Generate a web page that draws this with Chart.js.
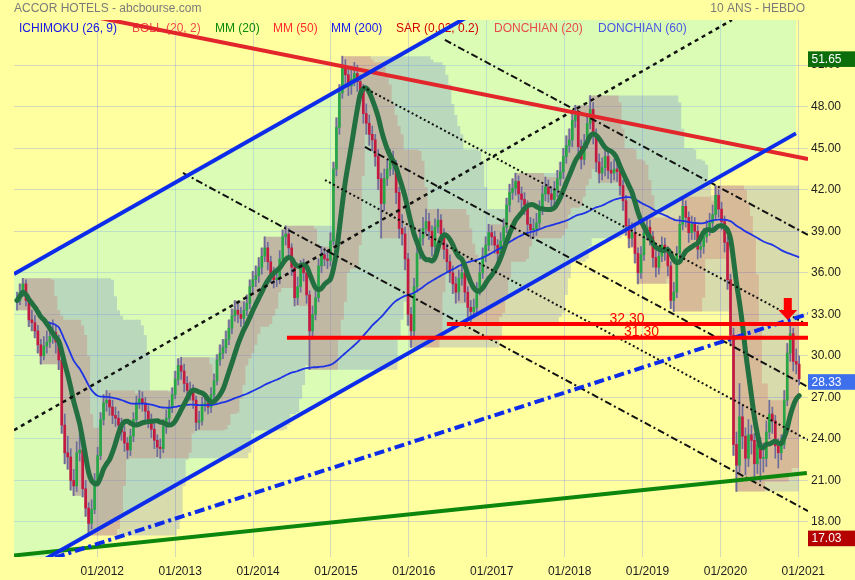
<!DOCTYPE html>
<html><head><meta charset="utf-8">
<script src="https://cdn.jsdelivr.net/npm/chart.js@4.4.0/dist/chart.umd.min.js"></script>
<style>html,body{margin:0;padding:0;background:#FFFFA0;}canvas{display:block;}</style>
</head><body>
<canvas id="c" width="855" height="580" style="width:855px;height:580px"></canvas>
<script>
// ---------- DATA ----------
const startYear = 2010.969;           // first (bi-weekly) candle
const stepYears = 14 / 365.25;        // two weeks
const closes = [34.0,34.6,35.2,34.0,32.6,32.4,31.8,30.8,30.0,30.7,
31.0,31.4,31.7,31.0,29.7,25.0,23.0,22.7,21.0,20.6,
23.0,23.2,20.4,19.0,17.9,18.9,21.0,22.8,25.4,26.6,
26.8,26.3,25.7,25.5,25.0,24.5,23.7,23.2,24.2,25.4,
26.6,26.9,26.6,26.0,25.4,24.7,23.9,23.4,23.3,24.9,
25.5,26.3,27.2,28.3,29.3,28.9,28.0,27.5,27.4,26.8,
25.2,25.3,26.5,26.6,26.3,27.2,28.2,29.7,30.2,30.6,
31.2,32.0,32.9,33.3,33.0,32.7,33.3,33.8,35.0,35.5,
35.8,36.4,37.2,37.8,36.8,35.9,35.5,35.6,37.0,38.6,
38.8,37.8,36.4,34.2,35.0,36.4,36.0,34.4,31.8,33.0,
34.2,36.5,37.3,37.0,36.9,38.3,43.5,46.5,49.0,50.9,
50.3,49.5,50.0,50.4,49.8,49.2,47.5,46.8,46.0,45.6,
44.4,42.8,41.0,42.8,43.5,44.2,43.8,41.8,39.2,38.8,
37.0,33.0,31.8,35.0,37.4,38.5,39.2,39.7,39.0,37.9,
39.3,39.8,38.8,37.7,36.8,36.0,35.2,34.6,35.6,36.0,
34.6,33.5,33.2,33.5,34.8,36.0,37.2,38.0,38.9,38.6,
38.0,37.4,38.3,39.3,40.9,41.8,42.1,42.6,41.7,41.3,
40.9,39.5,39.1,39.2,39.6,40.6,41.7,42.2,41.7,41.3,
42.0,42.8,43.3,44.4,45.2,45.6,47.0,47.4,45.1,44.2,
45.4,46.8,47.8,46.0,44.0,43.2,43.6,44.4,43.4,43.2,
43.5,43.3,42.3,41.2,39.4,38.5,38.9,37.4,36.0,37.3,
38.9,39.3,38.6,37.1,36.4,37.2,38.0,37.5,36.5,34.0,
34.6,37.4,39.5,40.8,40.0,38.9,39.5,39.0,37.7,37.9,
38.6,39.1,39.6,40.2,41.6,40.6,39.7,38.2,35.5,31.5,
23.6,22.1,25.6,24.2,22.6,24.3,23.9,22.2,23.6,22.6,
22.6,24.5,25.8,25.3,23.5,23.0,23.6,26.8,30.2,31.6,
29.6,29.4,28.33];
const highs = [34.6,35.2,35.6,35.5,34.3,33.3,32.9,32.2,31.2,31.4,
31.8,32.3,32.6,32.2,31.5,30.0,25.8,24.2,23.3,21.8,
23.8,24.8,23.6,21.0,19.4,19.6,21.5,23.4,25.9,27.2,
27.5,27.3,26.8,26.3,26.0,25.5,24.9,24.1,24.7,25.9,
27.1,27.5,27.4,27.0,26.4,25.8,25.1,24.3,24.0,25.4,
26.1,26.8,27.7,28.9,29.8,29.9,29.4,28.5,28.1,27.9,
27.1,26.0,27.0,27.2,27.1,27.7,28.7,30.1,30.8,31.2,
31.8,32.6,33.4,34.0,33.9,33.5,33.9,34.4,35.5,36.1,
36.5,37.1,37.8,38.6,38.2,37.2,36.4,36.3,37.6,39.1,
39.4,39.2,38.1,36.7,35.7,36.9,37.0,36.3,34.7,33.6,
34.8,37.0,37.9,37.8,37.6,38.9,44.0,47.2,49.6,51.65,
51.4,50.8,50.8,51.2,51.0,50.3,49.6,48.2,47.4,46.6,
46.0,44.9,43.2,43.5,44.2,44.9,44.8,44.1,42.2,40.2,
39.3,37.4,33.5,35.6,38.0,39.2,40.0,40.6,40.3,39.4,
39.9,40.6,40.2,39.2,38.1,37.3,36.5,35.7,36.2,36.7,
36.4,35.0,34.0,34.1,35.3,36.6,37.8,38.6,39.5,39.4,
39.0,38.4,38.9,39.9,41.4,42.4,42.8,43.2,43.0,42.2,
41.8,41.2,40.0,39.9,40.3,41.2,42.3,42.9,42.7,42.2,
42.6,43.4,44.0,45.0,45.9,46.4,47.6,48.1,47.7,45.6,
46.0,47.4,48.8,48.3,46.4,44.6,44.3,45.0,44.9,44.0,
44.2,44.1,43.8,42.7,41.6,39.9,39.6,39.3,37.8,37.9,
39.5,40.0,39.8,39.0,37.6,37.8,38.6,38.5,37.9,36.8,
35.3,37.9,40.1,41.5,41.2,40.4,40.1,40.0,39.4,38.5,
39.2,39.8,40.3,40.9,42.3,42.0,41.1,40.1,38.6,35.9,
32.0,24.5,28.0,26.4,24.8,25.4,25.0,24.4,24.5,24.1,
23.7,25.3,26.8,26.3,25.7,24.0,24.3,27.5,30.9,32.3,
32.0,30.5,30.0];
const lows = [33.3,33.7,34.3,33.6,32.1,31.8,31.3,30.2,29.4,29.7,
30.2,30.6,30.9,30.2,29.0,24.4,22.2,21.8,20.3,19.9,
20.2,22.4,19.8,18.4,17.03,17.5,18.6,20.6,22.5,25.0,
26.0,25.7,25.1,24.9,24.4,23.9,23.1,22.6,22.8,23.8,
25.0,26.2,26.0,25.4,24.8,24.1,23.3,22.7,22.6,23.0,
24.4,25.1,25.9,26.9,27.9,28.3,27.4,27.0,26.8,26.2,
24.6,24.7,25.0,26.0,25.8,25.9,26.9,27.9,29.3,29.8,
30.2,30.8,31.6,32.5,32.4,32.1,32.3,32.9,33.4,34.6,
35.0,35.3,35.9,36.8,36.2,35.3,34.9,35.0,35.2,36.7,
38.0,37.2,35.8,33.6,33.7,34.6,35.4,33.8,29.0,31.2,
32.6,33.9,36.0,36.5,36.3,36.5,38.0,43.0,46.0,48.6,
49.6,48.8,48.9,49.5,49.1,48.4,46.8,46.0,45.2,44.8,
43.7,42.0,38.5,40.5,42.3,43.0,43.1,41.0,38.5,38.0,
36.2,32.2,30.6,31.4,34.6,37.0,38.0,38.8,38.4,37.2,
37.5,38.9,38.2,37.0,36.1,35.3,34.5,33.8,34.0,35.1,
33.9,32.8,32.3,32.8,33.1,34.4,35.6,36.8,37.6,38.0,
37.4,36.8,37.0,37.9,38.9,40.4,41.3,41.6,41.1,40.6,
40.2,38.8,38.5,38.5,38.7,39.2,40.2,41.2,41.1,40.7,
40.8,41.5,42.3,42.8,43.9,44.7,45.1,46.5,44.5,43.5,
43.8,45.0,46.4,45.3,43.3,42.5,42.7,43.0,42.8,42.5,
42.7,42.6,41.6,40.5,38.7,37.8,37.9,36.7,35.2,35.6,
36.9,38.4,38.0,36.4,35.7,35.9,36.8,36.9,35.8,33.4,
33.2,34.2,37.0,39.1,39.3,38.2,38.4,38.4,37.0,37.1,
37.4,38.2,38.7,39.2,39.8,40.0,39.1,37.5,34.8,30.8,
22.8,20.2,21.6,23.3,21.4,22.0,22.9,21.0,21.5,20.9,
21.6,22.0,24.0,24.4,22.6,21.9,22.5,23.3,26.4,29.6,
28.9,28.7,27.9];

const yearTicks  = [2012,2013,2014,2015,2016,2017,2018,2019,2020,2021];
const priceTicks = [18,21,24,27,30,33,36,39,42,45,48,51];

// Drawn trend lines: [startYear, endYear] and [startPrice, endPrice]
const channelX      = [2010.931, 2020.97];
const channelTop    = [35.91, 67.95];
const channelBottom = [14.04, 46.07];
const resistX = [2010.931, 2021.125], resistY = [55.64, 44.22];
const supportX = [2010.931, 2021.11],  supportY = [15.58, 21.54];
const dashDotBlueX = [2011.457, 2021.125], dashDotBlueY = [15.43, 33.03];
const midLineX = [2010.931, 2020.148], midLineY = [24.64, 54.26];
const fanStartX = [2016.463, 2013.100, 2014.923, 2015.411, 2015.436];
const fanStartY = [52.82, 43.21, 42.70, 49.42, 45.09];
const fanEndY   = [38.73, 18.79, 23.92, 32.23, 27.75];
const fanStyle  = ['dashdot','dashdot','dot','dot','dashdot'];
const levelValues = [32.30, 31.30];
const levelStart  = [2016.488, 2014.435];
const levelLabelX = [2018.80, 2018.986];
const arrowAt = [2020.865, 32.59];
const markValues = [51.65, 28.33, 17.03];
const markColors = ['#0B6E0B', '#3E70EE', '#B50000'];
const legendLabels = ['ICHIMOKU (26, 9)','BOLL (20, 2)','MM (20)','MM (50)','MM (200)','SAR (0.02, 0.2)','DONCHIAN (20)','DONCHIAN (60)'];
const legendColors = ['#1616E4','#F04848','#0A880A','#FF2C2C','#1616EE','#D20000','#E84A4A','#4A56E4'];
const legendX = [19, 132, 215, 273, 331, 396, 494, 598];

// ---------- derived series ----------
const xMin = 2010.9307, xMax = 2021.1245, yMin = 15.47, yMax = 54.26;
const dates = closes.map((_, i) => startYear + i * stepYears);
const opens = closes.map((c, i) => i === 0 ? c : closes[i - 1]);
function sma(a, w) { return a.map((_, i) => { const s = Math.max(0, i - w + 1); let t = 0; for (let k = s; k <= i; k++) t += a[k]; return t / (i - s + 1); }); }
function rmax(a, w) { return a.map((_, i) => Math.max(...a.slice(Math.max(0, i - w + 1), i + 1))); }
function rmin(a, w) { return a.map((_, i) => Math.min(...a.slice(Math.max(0, i - w + 1), i + 1))); }
const mm20 = sma(closes, 10), mm200 = sma(closes, 100);
const d20h = rmax(highs, 10), d20l = rmin(lows, 10), d60h = rmax(highs, 30), d60l = rmin(lows, 30);
const P = ys => ys.map((y, i) => ({ x: dates[i], y }));
const S = (xs, ys) => xs.map((x, i) => ({ x, y: ys[i] }));

const FONT = 'Arial, "Liberation Sans", sans-serif';
const YELLOW = '#FFFFA0';
const GRID = 'rgba(125,140,235,0.33)';
const BLUE = '#0C2CEA';

function lineDs(label, data, color, width, dash, order, extra) {
  return Object.assign({ type: 'line', label, data, borderColor: color, borderWidth: width, borderDash: dash || [],
    pointRadius: 0, fill: false, tension: 0, order, clip: 0, borderCapStyle: 'butt' }, extra || {});
}
const dashFor = s => s === 'dot' ? [2, 2.6] : [7, 3, 2, 3];

const datasets = [
  lineDs('chanTop', S(channelX, channelTop), 'rgba(0,0,0,0)', 0, null, 100, { fill: 1, backgroundColor: 'rgba(132,245,227,0.30)' }),
  lineDs('chanBot', S(channelX, channelBottom), 'rgba(0,0,0,0)', 0, null, 99),
  lineDs('d60h', P(d60h), 'rgba(0,0,0,0)', 0, null, 90, { fill: 3, stepped: 'middle', backgroundColor: 'rgba(60,80,220,0.20)' }),
  lineDs('d60l', P(d60l), 'rgba(0,0,0,0)', 0, null, 89, { stepped: 'middle' }),
  lineDs('d20h', P(d20h), 'rgba(0,0,0,0)', 0, null, 80, { fill: 5, stepped: 'middle', backgroundColor: 'rgba(215,80,85,0.24)' }),
  lineDs('d20l', P(d20l), 'rgba(0,0,0,0)', 0, null, 79, { stepped: 'middle' }),
  { type: 'bar', label: 'wicks', data: dates.map((x, i) => ({ x, y: [lows[i], highs[i]] })), backgroundColor: '#6C6C9C',
    barThickness: 1, grouped: false, order: 70, borderWidth: 0, clip: 0 },
  { type: 'bar', label: 'bodies', data: dates.map((x, i) => ({ x, y: [opens[i], closes[i]] })),
    backgroundColor: closes.map((c, i) => c >= opens[i] ? '#26A846' : '#C51A40'),
    barThickness: 2, grouped: false, order: 60, borderWidth: 0, minBarLength: 1, clip: 0 },
  lineDs('mm200', P(mm200), '#1F34E4', 1.8, null, 50, { tension: 0.3 }),
  lineDs('mm20', P(mm20), '#22703F', 5, null, 45, { tension: 0.35, borderCapStyle: 'round', borderJoinStyle: 'round' }),
  lineDs('mid', S(midLineX, midLineY), '#111', 2.5, [4, 4], 40),
];
fanStartX.forEach((x0, k) => datasets.push(lineDs('fan' + k, S([x0, xMax], [fanStartY[k], fanEndY[k]]), '#111', 2, dashFor(fanStyle[k]), 40)));
datasets.push(
  lineDs('blueTop', S(channelX, channelTop), BLUE, 4, null, 30),
  lineDs('blueBot', S(channelX, channelBottom), BLUE, 4, null, 30),
  lineDs('blueDD', S(dashDotBlueX, dashDotBlueY), BLUE, 4, [10, 4, 3, 4], 30),
  lineDs('support', S(supportX, supportY), '#0C860C', 4, null, 30),
  lineDs('resist', S(resistX, resistY), '#E2262B', 4, null, 30)
);
levelValues.forEach((v, k) => datasets.push(lineDs('lvl' + k, S([levelStart[k], xMax], [v, v]), '#FF0000', 4, null, 20)));

const overlay = {
  id: 'overlay',
  beforeDraw(chart) {
    const c = chart.ctx; c.save(); c.fillStyle = YELLOW; c.fillRect(0, 0, chart.width, chart.height); c.restore();
  },
  beforeDatasetDraw(chart, args) {
    if (chart.data.datasets[args.index].label !== 'wicks') return;
    const c = chart.ctx; c.save();
    c.font = '12px ' + FONT; c.textBaseline = 'middle'; c.textAlign = 'left';
    legendLabels.forEach((t, k) => { c.fillStyle = legendColors[k]; c.fillText(t, legendX[k], 28.5); });
    c.restore();
  },
  afterDatasetsDraw(chart) {
    const c = chart.ctx, xs = chart.scales.x, ys = chart.scales.y;
    c.save();
    c.font = '14px ' + FONT; c.fillStyle = '#FF0000'; c.textAlign = 'center'; c.textBaseline = 'alphabetic';
    levelValues.forEach((v, k) => c.fillText(v.toFixed(2), xs.getPixelForValue(levelLabelX[k]), ys.getPixelForValue(v) - 1.5));
    const ax = xs.getPixelForValue(arrowAt[0]), ay = ys.getPixelForValue(arrowAt[1]);
    c.fillStyle = '#FF0000';
    c.fillRect(ax - 4, ay - 22, 8, 12.5);
    c.beginPath(); c.moveTo(ax - 9.5, ay - 10); c.lineTo(ax + 9.5, ay - 10); c.lineTo(ax, ay); c.closePath(); c.fill();
    c.restore();
  },
  afterDraw(chart) {
    const c = chart.ctx, ys = chart.scales.y, a = chart.chartArea;
    c.save();
    c.font = '12px ' + FONT; c.textBaseline = 'middle';
    markValues.forEach((v, k) => {
      const cy = ys.getPixelForValue(v) + 3;
      c.fillStyle = markColors[k]; c.fillRect(a.right, cy - 7.8, chart.width - a.right, 15.6);
      c.fillStyle = '#FFFFFF'; c.textAlign = 'left'; c.fillText(v.toFixed(2), a.right + 3.5, cy + 0.5);
    });
    c.fillStyle = '#7A7A7A';
    c.textAlign = 'left'; c.fillText('ACCOR HOTELS - abcbourse.com', 14, 8.5);
    c.textAlign = 'right'; c.fillText('10 ANS - HEBDO', 805, 8.5);
    c.restore();
  }
};

new Chart(document.getElementById('c'), {
  type: 'line',
  data: { datasets },
  options: {
    responsive: false, animation: false, devicePixelRatio: 1, events: [],
    layout: { padding: { left: 14, top: 20, right: 0, bottom: 0 } },
    plugins: { legend: { display: false }, tooltip: { enabled: false }, filler: { propagate: false } },
    scales: {
      x: {
        type: 'linear', min: xMin, max: xMax, offset: false,
        afterBuildTicks: s => { s.ticks = yearTicks.map(v => ({ value: v })); },
        afterFit: s => { s.height = 23; },
        grid: { color: GRID, lineWidth: 1, drawTicks: false, offset: false },
        border: { display: false },
        ticks: { callback: v => '01/' + v, font: { family: FONT, size: 12 }, color: '#1E1E1E', padding: 7, labelOffset: 5, maxRotation: 0, autoSkip: false }
      },
      y: {
        type: 'linear', position: 'right', min: yMin, max: yMax,
        afterBuildTicks: s => { s.ticks = priceTicks.map(v => ({ value: v })); },
        afterFit: s => { s.width = 47; },
        grid: { color: GRID, lineWidth: 1, drawTicks: false },
        border: { display: false },
        ticks: { callback: v => Number(v).toFixed(2), font: { family: FONT, size: 12 }, color: '#1E1E1E', padding: 3 }
      }
    }
  },
  plugins: [overlay]
});
</script>
</body></html>
